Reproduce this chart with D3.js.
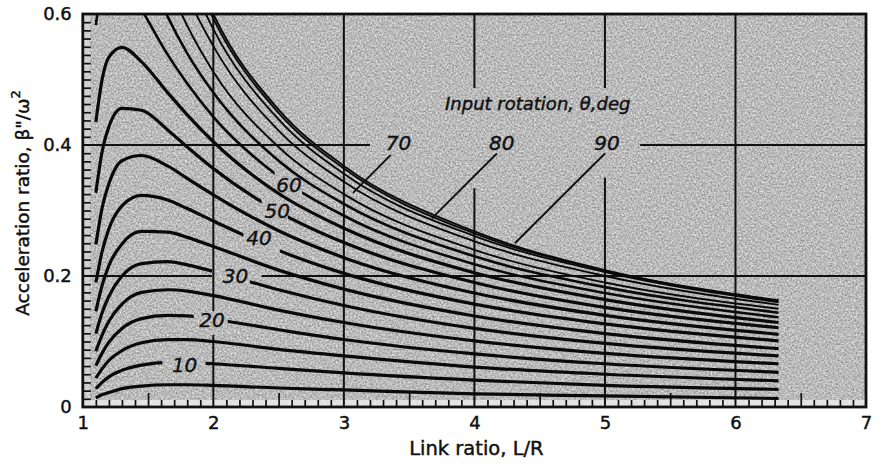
<!DOCTYPE html>
<html>
<head>
<meta charset="utf-8">
<script src="https://cdn.jsdelivr.net/npm/d3@7"></script>
<style>
  html, body { margin: 0; padding: 0; background: #fff; }
  svg { display: block; font-family: "DejaVu Sans", sans-serif; }
  .lbl { fill: #111; stroke: #111; stroke-width: 0.45px; }
</style>
</head>
<body>
<svg id="chart" width="884" height="464"></svg>
<script>
// Link ratio L/R at which each curve is sampled
const linkRatio = [1.1, 1.15, 1.2, 1.3, 1.45, 1.65, 1.8, 2.0, 2.5, 3.0, 4.0, 5.0, 6.33];

// Acceleration ratio beta''/omega^2 for each input rotation theta (deg)
const accel05 = [0.014, 0.019, 0.022, 0.028, 0.032, 0.034, 0.034, 0.033, 0.029, 0.026, 0.020, 0.017, 0.013];
const accel10 = [0.028, 0.038, 0.046, 0.056, 0.064, 0.068, 0.068, 0.066, 0.059, 0.052, 0.041, 0.033, 0.027];
const accel15 = [0.044, 0.059, 0.071, 0.086, 0.098, 0.103, 0.103, 0.100, 0.088, 0.078, 0.061, 0.050, 0.040];
const accel20 = [0.063, 0.083, 0.099, 0.120, 0.135, 0.140, 0.139, 0.134, 0.118, 0.103, 0.081, 0.066, 0.053];
const accel25 = [0.085, 0.111, 0.131, 0.157, 0.175, 0.179, 0.177, 0.170, 0.148, 0.129, 0.101, 0.082, 0.066];
const accel30 = [0.112, 0.145, 0.169, 0.200, 0.219, 0.222, 0.217, 0.207, 0.179, 0.155, 0.120, 0.097, 0.078];
const accel35 = [0.146, 0.187, 0.216, 0.249, 0.268, 0.267, 0.259, 0.245, 0.209, 0.180, 0.139, 0.112, 0.089];
const accel40 = [0.190, 0.239, 0.272, 0.307, 0.323, 0.316, 0.303, 0.284, 0.239, 0.204, 0.157, 0.127, 0.101];
const accel45 = [0.248, 0.306, 0.341, 0.376, 0.384, 0.368, 0.349, 0.324, 0.269, 0.228, 0.174, 0.140, 0.111];
const accel50 = [0.327, 0.392, 0.428, 0.456, 0.453, 0.423, 0.397, 0.364, 0.298, 0.251, 0.190, 0.152, 0.121];
const accel55 = [0.435, 0.502, 0.534, 0.549, 0.527, 0.480, 0.446, 0.405, 0.326, 0.273, 0.205, 0.164, 0.129];
const accel60 = [0.583, 0.645, 0.665, 0.656, 0.607, 0.538, 0.494, 0.443, 0.352, 0.292, 0.218, 0.174, 0.137];
const accel65 = [null, null, null, 0.773, 0.689, 0.596, 0.540, 0.480, 0.376, 0.310, 0.230, 0.183, 0.144];
const accel70 = [null, null, null, null, 0.769, 0.649, 0.582, 0.512, 0.397, 0.325, 0.240, 0.190, 0.150];
const accel75 = [null, null, null, null, 0.859, 0.709, 0.629, 0.551, 0.422, 0.344, 0.253, 0.200, 0.156];
const accel80 = [null, null, null, null, 0.928, 0.753, 0.664, 0.577, 0.439, 0.356, 0.261, 0.206, 0.160];
const accel85 = [null, null, null, null, 0.972, 0.780, 0.685, 0.593, 0.449, 0.364, 0.265, 0.208, 0.162];
const accel90 = [null, null, null, null, 0.990, 0.790, 0.695, 0.600, 0.454, 0.368, 0.268, 0.209, 0.163];

const thetaDeg = [5, 10, 15, 20, 25, 30, 35, 40, 45, 50, 55, 60, 65, 70, 75, 80, 85, 90];
const accelByTheta = [accel05, accel10, accel15, accel20, accel25, accel30, accel35, accel40, accel45,
                      accel50, accel55, accel60, accel65, accel70, accel75, accel80, accel85, accel90];

// Inline curve labels: theta, label position (L/R, accel) and the break in the curve
const inlineTheta = [10, 20, 30, 40, 50, 60];
const inlineAt    = [[1.78, 0.064], [1.99, 0.133], [2.17, 0.200], [2.35, 0.258], [2.49, 0.300], [2.58, 0.339]];
const inlineGap   = [[1.61, 1.94], [1.85, 2.11], [1.99, 2.28], [2.23, 2.51], [2.37, 2.57], [2.47, 2.68]];

// Labels with leader lines for the crowded upper curves
const leaderTheta = [70, 80, 90];
const leaderLabelAt = [[3.418, 0.403], [4.21, 0.403], [5.015, 0.403]];
const leaderFrom = [[3.36, 0.385], [4.172, 0.387], [5.0, 0.387]];
const leaderTo   = [[3.07, 0.327], [3.674, 0.288], [4.31, 0.250]];

// Axis ticks
const xTickValues = [1, 2, 3, 4, 5, 6, 7];
const xTickLabels = ["1", "2", "3", "4", "5", "6", "7"];
const yTickValues = [0, 0.2, 0.4, 0.6];
const yTickLabels = ["0", "0.2", "0.4", "0.6"];

// Grid lines (with breaks where text sits)
const vGridAt = [2, 3, 4, 5, 6];
const vGridSpans = [[[0, 0.11], [0.146, 0.6]], [[0, 0.6]], [[0, 0.334], [0.487, 0.6]], [[0, 0.35], [0.487, 0.6]], [[0, 0.6]]];
const hGridAt = [0.2, 0.4];
const hGridSpans = [[[1, 1.99], [2.37, 7]], [[1, 3.2], [5.27, 7]]];

const svg = d3.select("#chart");
const x = d3.scaleLinear().domain([1, 7]).range([82.8, 866]);
const y = d3.scaleLinear().domain([0, 0.6]).range([407, 14]);
const [x0, x1] = x.range();
const [yb, yt] = y.range();

const defs = svg.append("defs");

// grainy paper background
const grain = defs.append("filter").attr("id", "grain")
  .attr("x", 0).attr("y", 0).attr("width", "100%").attr("height", "100%")
  .attr("color-interpolation-filters", "sRGB");
grain.append("feTurbulence").attr("type", "fractalNoise")
  .attr("baseFrequency", 0.55).attr("numOctaves", 2).attr("seed", 7).attr("result", "n");
grain.append("feColorMatrix").attr("type", "matrix")
  .attr("values", "0.55 0 0 0 0.455  0.55 0 0 0 0.455  0.55 0 0 0 0.455  0 0 0 0 1");

defs.append("clipPath").attr("id", "plotClip")
  .append("rect").attr("x", x0).attr("y", yt).attr("width", x1 - x0).attr("height", yb - yt);

inlineTheta.forEach((t, i) => {
  const cp = defs.append("clipPath").attr("id", "gap" + t);
  const [g0, g1] = inlineGap[i];
  cp.append("rect").attr("x", x0).attr("y", yt).attr("width", x(g0) - x0).attr("height", yb - yt);
  cp.append("rect").attr("x", x(g1)).attr("y", yt).attr("width", x1 - x(g1)).attr("height", yb - yt);
});

// plot background
svg.append("rect").attr("x", x0).attr("y", yt).attr("width", x1 - x0).attr("height", yb - yt)
  .attr("fill", "#b8b8b8").attr("filter", "url(#grain)");

// light strips along the tick scales
svg.append("rect").attr("x", x0).attr("y", yb - 7).attr("width", x1 - x0).attr("height", 7)
  .attr("fill", "#ececec").attr("opacity", 0.8);
svg.append("rect").attr("x", x0).attr("y", yt).attr("width", 7).attr("height", yb - yt)
  .attr("fill", "#e0e0e0").attr("opacity", 0.6);

// grid
const grid = svg.append("g").attr("stroke", "#111").attr("stroke-width", 2);
vGridAt.forEach((v, i) => {
  vGridSpans[i].forEach(s => grid.append("line")
    .attr("x1", x(v)).attr("x2", x(v)).attr("y1", y(s[0])).attr("y2", y(s[1])));
});
hGridAt.forEach((v, i) => {
  hGridSpans[i].forEach(s => grid.append("line")
    .attr("y1", y(v)).attr("y2", y(v)).attr("x1", x(s[0])).attr("x2", x(s[1])));
});

// minor ticks: bottom every 0.1 (long at halves), left every 0.0125
const xMinor = d3.range(11, 70).map(d => d / 10).filter(d => Math.abs(d - Math.round(d)) > 1e-6);
const xHalf = xMinor.filter(d => Math.abs(d * 2 - Math.round(d * 2)) < 1e-6);
const xSmall = xMinor.filter(d => !xHalf.includes(d));
const tickStyle = g => { g.select(".domain").remove(); g.selectAll("line").attr("stroke", "#111").attr("stroke-width", 1.7); };
svg.append("g").attr("transform", `translate(0,${yb})`)
  .call(d3.axisBottom(x).tickValues(xSmall).tickSize(-7).tickFormat("")).call(tickStyle);
svg.append("g").attr("transform", `translate(0,${yb})`)
  .call(d3.axisBottom(x).tickValues(xHalf).tickSize(-14).tickFormat("")).call(tickStyle);
const yMinor = d3.range(1, 48).map(d => d * 0.0125).filter(d => Math.abs(d * 5 - Math.round(d * 5)) > 1e-6);
svg.append("g").attr("transform", `translate(${x0},0)`)
  .call(d3.axisLeft(y).tickValues(yMinor).tickSize(-8).tickFormat("")).call(tickStyle);

// curves
const line = d3.line()
  .defined(d => d[1] != null)
  .x(d => x(d[0])).y(d => y(d[1]))
  .curve(d3.curveMonotoneX);

const curves = svg.append("g").attr("fill", "none").attr("stroke", "#0a0a0a").attr("stroke-linejoin", "round");
thetaDeg.forEach((t, i) => {
  const pts = linkRatio.map((n, j) => [n, accelByTheta[i][j]]);
  const clip = inlineTheta.includes(t) ? "url(#gap" + t + ")" : "url(#plotClip)";
  curves.append("g").attr("clip-path", "url(#plotClip)")
    .append("path").attr("d", line(pts)).attr("clip-path", clip)
    .attr("stroke-width", t <= 55 ? 3.2 : (t <= 65 ? 2.6 : 1.9));
});

// inline labels
svg.append("g").selectAll("text").data(inlineTheta).join("text")
  .attr("class", "lbl")
  .attr("x", (d, i) => x(inlineAt[i][0])).attr("y", (d, i) => y(inlineAt[i][1]))
  .attr("text-anchor", "middle").attr("dominant-baseline", "central")
  .attr("font-size", 20).attr("font-style", "italic")
  .text(d => d);

// leader labels
const leaders = svg.append("g");
leaderTheta.forEach((t, i) => {
  leaders.append("line")
    .attr("x1", x(leaderFrom[i][0])).attr("y1", y(leaderFrom[i][1]))
    .attr("x2", x(leaderTo[i][0])).attr("y2", y(leaderTo[i][1]))
    .attr("stroke", "#111").attr("stroke-width", 1.9);
  leaders.append("text")
    .attr("class", "lbl")
    .attr("x", x(leaderLabelAt[i][0])).attr("y", y(leaderLabelAt[i][1]))
    .attr("text-anchor", "middle").attr("dominant-baseline", "central")
    .attr("font-size", 20).attr("font-style", "italic")
    .text(t);
});

svg.append("text")
  .attr("class", "lbl")
  .attr("x", x(4.485)).attr("y", y(0.4641))
  .attr("text-anchor", "middle").attr("dominant-baseline", "central")
  .attr("font-size", 18).attr("font-style", "italic")
  .text("Input rotation, θ,deg");

// frame
svg.append("rect").attr("x", x0).attr("y", yt).attr("width", x1 - x0).attr("height", yb - yt)
  .attr("fill", "none").attr("stroke", "#111").attr("stroke-width", 2.8);

// major tick labels
svg.append("g").attr("transform", `translate(0,${yb})`)
  .call(d3.axisBottom(x).tickValues(xTickValues).tickSize(0).tickPadding(9)
    .tickFormat((d, i) => xTickLabels[i]))
  .call(g => g.select(".domain").remove())
  .call(g => g.selectAll("text").attr("class", "lbl").attr("font-size", 18)
    .attr("font-family", "DejaVu Sans, sans-serif"));
svg.append("g").attr("transform", `translate(${x0},0)`)
  .call(d3.axisLeft(y).tickValues(yTickValues).tickSize(0).tickPadding(11)
    .tickFormat((d, i) => yTickLabels[i]))
  .call(g => g.select(".domain").remove())
  .call(g => g.selectAll("text").attr("class", "lbl").attr("font-size", 18)
    .attr("font-family", "DejaVu Sans, sans-serif"));

// axis titles
svg.append("text")
  .attr("class", "lbl")
  .attr("x", x(4) + 2).attr("y", 448)
  .attr("text-anchor", "middle").attr("dominant-baseline", "central")
  .attr("font-size", 19.5)
  .text("Link ratio, L/R");

const yTitle = svg.append("text")
  .attr("class", "lbl")
  .attr("transform", "translate(22,203) rotate(-90)")
  .attr("text-anchor", "middle").attr("dominant-baseline", "central")
  .attr("font-size", 18.5);
yTitle.append("tspan").text("Acceleration ratio, β\"/ω");
yTitle.append("tspan").attr("font-size", 13).attr("dy", -7).text("2");
</script>
</body>
</html>
